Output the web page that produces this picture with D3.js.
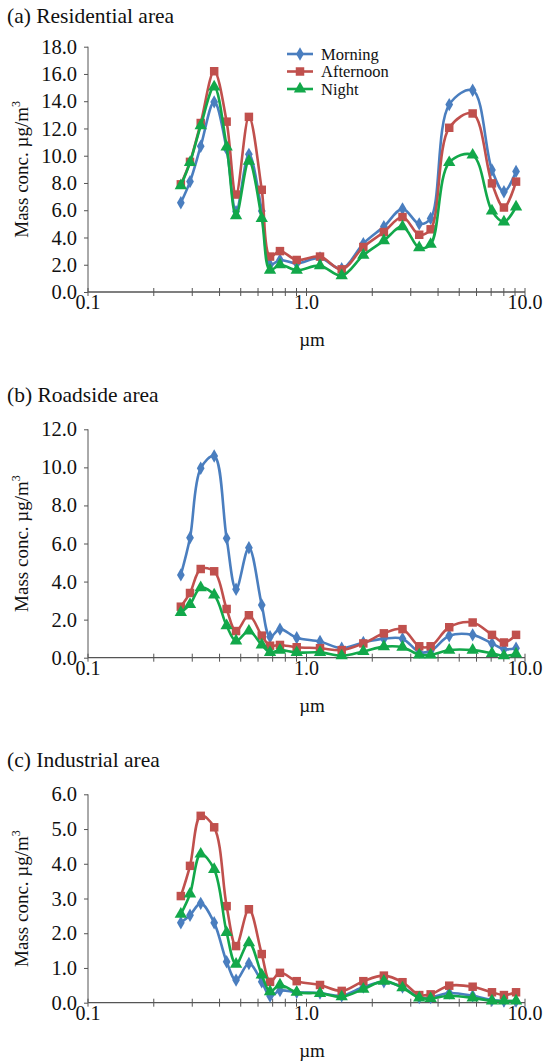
<!DOCTYPE html>
<html>
<head>
<meta charset="utf-8">
<script src="https://cdn.jsdelivr.net/npm/d3@7"></script>
<style>
  html, body { margin: 0; padding: 0; background: #fff; }
  svg { display: block; }
  svg text { font-family: "Liberation Serif", "DejaVu Serif", serif; }
</style>
</head>
<body>
<div id="chart"></div>
<script>
//************************************************************************
// data
//************************************************************************
var sizes = [0.266, 0.293, 0.328, 0.378, 0.431, 0.476, 0.545, 0.624, 0.681, 0.756, 0.902, 1.153,
             1.449, 1.82, 2.26, 2.75, 3.28, 3.70, 4.50, 5.76, 7.06, 8.01, 9.10];

var seriesNames = ["Morning", "Afternoon", "Night"];
var xTickValues = [0.1, 1, 10];
var xTickLabels = ["0.1", "1.0", "10.0"];

var resMorning   = [6.55, 8.1, 10.7, 13.95, 10.5, 5.9, 10.1, 5.95, 2.0, 2.35, 2.1, 2.5, 1.7, 3.55, 4.8, 6.1, 5.0, 5.4, 13.75, 14.8, 8.95, 7.35, 8.85];
var resAfternoon = [7.9, 9.55, 12.4, 16.2, 12.5, 7.15, 12.85, 7.5, 2.6, 3.0, 2.35, 2.6, 1.66, 3.3, 4.4, 5.5, 4.2, 4.6, 12.05, 13.1, 7.97, 6.2, 8.1];
var resNight     = [7.8, 9.5, 12.2, 15.05, 10.65, 5.6, 9.6, 5.4, 1.6, 2.0, 1.6, 1.93, 1.2, 2.7, 3.77, 4.8, 3.25, 3.5, 9.5, 10.05, 5.95, 5.15, 6.25];

var roadMorning   = [4.35, 6.3, 9.95, 10.6, 6.27, 3.6, 5.78, 2.77, 1.1, 1.5, 1.05, 0.85, 0.5, 0.8, 1.0, 1.0, 0.3, 0.35, 1.15, 1.2, 0.75, 0.45, 0.5];
var roadAfternoon = [2.68, 3.4, 4.66, 4.54, 2.56, 1.4, 2.23, 1.16, 0.63, 0.67, 0.55, 0.5, 0.4, 0.75, 1.28, 1.5, 0.6, 0.6, 1.6, 1.85, 1.2, 0.8, 1.2];
var roadNight     = [2.38, 2.8, 3.68, 3.3, 1.68, 0.88, 1.4, 0.67, 0.28, 0.4, 0.27, 0.28, 0.1, 0.33, 0.58, 0.55, 0.15, 0.15, 0.4, 0.4, 0.23, 0.1, 0.2];

var indMorning   = [2.3, 2.52, 2.86, 2.3, 1.18, 0.65, 1.13, 0.6, 0.19, 0.35, 0.3, 0.28, 0.2, 0.45, 0.6, 0.45, 0.15, 0.15, 0.28, 0.2, 0.08, 0.05, 0.05];
var indAfternoon = [3.07, 3.94, 5.38, 5.05, 2.78, 1.63, 2.69, 1.4, 0.6, 0.86, 0.62, 0.51, 0.34, 0.62, 0.78, 0.59, 0.22, 0.24, 0.49, 0.46, 0.3, 0.22, 0.3];
var indNight     = [2.55, 3.13, 4.28, 3.84, 2.02, 1.11, 1.73, 0.8, 0.32, 0.51, 0.3, 0.27, 0.17, 0.39, 0.62, 0.43, 0.14, 0.12, 0.2, 0.14, 0.05, 0.05, 0.05];

var titles = ["(a) Residential area", "(b) Roadside area", "(c) Industrial area"];
var yMaxes = [18, 12, 6];
var ySteps = [2, 2, 1];
var panelData = [
  [resMorning, resAfternoon, resNight],
  [roadMorning, roadAfternoon, roadNight],
  [indMorning, indAfternoon, indNight]
];

//************************************************************************
// display settings
//************************************************************************
var svgWidth = 544;
var svgHeight = 1062;
var serif = "Liberation Serif, DejaVu Serif, serif";
var colors = ["#4a7ebf", "#c0504d", "#12a84a"];
var symbols = [d3.symbolDiamond, d3.symbolSquare, d3.symbolTriangle];
var symbolSizes = [52, 72, 66];

// plot layout per panel: top of y axis, baseline, title baseline
var layout = [
  { top: 46.7, bottom: 292, title: 23 },
  { top: 429.3, bottom: 657.7, title: 402 },
  { top: 794.3, bottom: 1002.7, title: 767 }
];
var plotLeft = 88;
var plotRight = 525;

var svg = d3.select("#chart")
  .append("svg")
  .attr("width", svgWidth)
  .attr("height", svgHeight);

var x = d3.scaleLog().domain([0.1, 10]).range([plotLeft, plotRight]);

var line = d3.line()
  .x(d => x(d[0]))
  .y(d => d[1])
  .curve(d3.curveCatmullRom.alpha(0.5));

//************************************************************************
// draw each panel
//************************************************************************
panelData.forEach(function (series, p) {
  var L = layout[p];
  var g = svg.append("g");

  var y = d3.scaleLinear().domain([0, yMaxes[p]]).range([L.bottom, L.top]);

  // title
  g.append("text")
    .attr("x", 7)
    .attr("y", L.title)
    .attr("font-family", serif)
    .attr("font-size", 21.5)
    .attr("fill", "#111")
    .text(titles[p]);

  // y axis
  var yTicks = d3.range(0, yMaxes[p] + 0.001, ySteps[p]);
  var leftAxis = d3.axisLeft(y)
    .tickValues(yTicks)
    .tickFormat(d3.format(".1f"))
    .tickSize(4)
    .tickPadding(7);

  var yAxisG = g.append("g")
    .attr("transform", `translate(${plotLeft}, 0)`)
    .call(leftAxis)
    .attr("font-family", serif);
  yAxisG.select(".domain").attr("stroke", "#555").attr("d", `M0,${L.top}V${L.bottom}`);
  yAxisG.selectAll(".tick line").attr("stroke", "#555");
  yAxisG.selectAll(".tick text")
    .attr("font-size", 20.5)
    .attr("font-family", serif)
    .attr("fill", "#111");

  // x axis: line with minor ticks crossing it
  var xAxisG = g.append("g");
  xAxisG.append("line")
    .attr("x1", plotLeft).attr("x2", plotRight)
    .attr("y1", L.bottom).attr("y2", L.bottom)
    .attr("stroke", "#555").attr("stroke-width", 1.3);

  var minor = [];
  [0.1, 1].forEach(function (dec) {
    for (var k = 1; k <= 9; k++) minor.push(dec * k);
  });
  minor.push(10);
  xAxisG.selectAll(".xt")
    .data(minor)
    .enter().append("line")
    .attr("x1", d => x(d)).attr("x2", d => x(d))
    .attr("y1", L.bottom - 4).attr("y2", L.bottom + 4)
    .attr("stroke", "#555").attr("stroke-width", 1);

  xAxisG.selectAll(".xl")
    .data(xTickValues)
    .enter().append("text")
    .attr("x", d => x(d))
    .attr("y", L.bottom + 17)
    .attr("text-anchor", "middle")
    .attr("font-family", serif)
    .attr("font-size", 20)
    .attr("fill", "#111")
    .text((d, i) => xTickLabels[i]);

  // axis labels
  g.append("text")
    .attr("x", 312)
    .attr("y", L.bottom + 54)
    .attr("text-anchor", "middle")
    .attr("font-family", serif)
    .attr("font-size", 19)
    .attr("fill", "#111")
    .text("\u00b5m");

  var yl = g.append("text")
    .attr("transform", `translate(28, ${(L.top + L.bottom) / 2}) rotate(-90)`)
    .attr("text-anchor", "middle")
    .attr("font-family", serif)
    .attr("font-size", 19)
    .attr("fill", "#111");
  yl.append("tspan").text("Mass conc. \u00b5g/m");
  yl.append("tspan").attr("dy", -8).attr("font-size", 12).text("3");

  // series lines and markers
  series.forEach(function (vals, s) {
    var pts = sizes.map((d, i) => [d, y(vals[i])]);
    g.append("path")
      .attr("d", line(pts))
      .attr("fill", "none")
      .attr("stroke", colors[s])
      .attr("stroke-width", 2.6);

    g.selectAll(".m" + s)
      .data(pts)
      .enter().append("path")
      .attr("transform", d => `translate(${x(d[0])}, ${d[1]})`)
      .attr("d", d3.symbol().type(symbols[s]).size(symbolSizes[s]))
      .attr("fill", colors[s]);
  });

  // legend (panel a only)
  if (p === 0) {
    var legend = g.append("g");
    seriesNames.forEach(function (name, s) {
      var ly = 54 + s * 17.5;
      legend.append("line")
        .attr("x1", 287).attr("x2", 313)
        .attr("y1", ly).attr("y2", ly)
        .attr("stroke", colors[s]).attr("stroke-width", 2.6);
      legend.append("path")
        .attr("transform", `translate(300, ${ly})`)
        .attr("d", d3.symbol().type(symbols[s]).size(symbolSizes[s]))
        .attr("fill", colors[s]);
      legend.append("text")
        .attr("x", 321)
        .attr("y", ly + 5.5)
        .attr("font-family", serif)
        .attr("font-size", 16.5)
        .attr("fill", "#111")
        .text(name);
    });
  }
});
</script>
</body>
</html>
